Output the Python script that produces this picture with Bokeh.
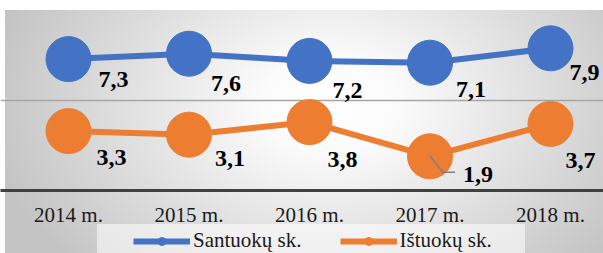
from bokeh.plotting import figure
from bokeh.layouts import column
from bokeh.models import Range1d, FixedTicker, ColumnDataSource, Legend
from bokeh.core.properties import value
from bokeh.embed import file_html
from bokeh.resources import INLINE

# ---- data ----
years = ["2014 m.", "2015 m.", "2016 m.", "2017 m.", "2018 m."]
marriages = [7.3, 7.6, 7.2, 7.1, 7.9]
divorces = [3.3, 3.1, 3.8, 1.9, 3.7]
marriage_labels = ["7,3", "7,6", "7,2", "7,1", "7,9"]
divorce_labels = ["3,3", "3,1", "3,8", "1,9", "3,7"]
series_names = ["Santuokų sk.", "Ištuokų sk."]

# label placement (screen px offsets, style only)
m_dx = [45, 37, 38, 41, 34]
m_dy = [20, 30, 30, 27, 24]
d_dx = [43, 41, 33, 48, 30]
d_dy = [26, 24, 37, 18, 37]

BLUE = "#4472C4"
ORANGE = "#ED7D31"
W = 603
H1 = 229              # chart part
H2 = 24               # legend strip
PX_X = 120.5          # px per category
X0 = 68               # px of first category centre
TOP = 10
FRAME_H = 180

xs = list(range(len(years)))

p = figure(width=W, height=H1, output_backend="svg", toolbar_location=None,
           x_range=Range1d(-X0 / PX_X, (W - X0) / PX_X), y_range=Range1d(0, 10),
           min_border_left=0, min_border_right=0, min_border_top=TOP,
           min_border_bottom=H1 - TOP - FRAME_H)
p.background_fill_color = None
p.border_fill_color = None
p.outline_line_color = None

p.yaxis.visible = False
p.xgrid.visible = False
p.ygrid.ticker = FixedTicker(ticks=[5, 10])
p.ygrid.grid_line_color = "#a6a6a6"
p.ygrid.grid_line_width = 1.5

xa = p.xaxis[0]
xa.ticker = FixedTicker(ticks=xs)
xa.major_label_overrides = {i: y for i, y in zip(xs, years)}
xa.major_tick_line_color = None
xa.minor_tick_line_color = None
xa.major_tick_out = 0
xa.major_tick_in = 0
xa.major_label_standoff = 12
xa.axis_line_color = "#404040"
xa.axis_line_width = 3
xa.major_label_text_font = "Liberation Serif"
xa.major_label_text_font_size = "21px"
xa.major_label_text_color = "#1a1a1a"

p.line(xs, marriages, line_color=BLUE, line_width=6)
p.scatter(xs, marriages, size=45, fill_color=BLUE, line_color=BLUE)
p.line(xs, divorces, line_color=ORANGE, line_width=6)
p.scatter(xs, divorces, size=45, fill_color=ORANGE, line_color=ORANGE)

# leader line for the 1,9 label
i19 = 3
px_y = FRAME_H / 10.0
p.line([xs[i19], xs[i19] + 13 / PX_X, xs[i19] + 25 / PX_X],
       [divorces[i19], divorces[i19] - 16 / px_y, divorces[i19] - 16 / px_y],
       line_color="#7f7f7f", line_width=1.5)

src_m = ColumnDataSource(dict(x=xs, y=marriages, t=marriage_labels, dx=m_dx, dy=m_dy))
src_d = ColumnDataSource(dict(x=xs, y=divorces, t=divorce_labels, dx=d_dx, dy=d_dy))
for src in (src_m, src_d):
    p.text(x="x", y="y", text="t", x_offset="dx", y_offset="dy", source=src,
           text_font=value("Liberation Serif"), text_font_style="bold",
           text_font_size="24px", text_align="center", text_baseline="middle",
           text_color="#000000")

# ---- legend strip (same series, drawn outside its visible range) ----
p2 = figure(width=W, height=H2, output_backend="svg", toolbar_location=None,
            x_axis_location=None, y_axis_location=None,
            x_range=Range1d(-X0 / PX_X, (W - X0) / PX_X), y_range=Range1d(100, 101),
            min_border_left=0, min_border_right=0, min_border_top=0, min_border_bottom=0)
p2.background_fill_color = None
p2.border_fill_color = None
p2.outline_line_color = None
p2.xgrid.visible = False
p2.ygrid.visible = False
l1 = p2.line(xs, marriages, line_color=BLUE, line_width=6)
s1 = p2.scatter(xs, marriages, size=45, fill_color=BLUE, line_color=BLUE)
l2 = p2.line(xs, divorces, line_color=ORANGE, line_width=6)
s2 = p2.scatter(xs, divorces, size=45, fill_color=ORANGE, line_color=ORANGE)

legend = Legend(items=[(series_names[0], [l1, s1]), (series_names[1], [l2, s2])],
                orientation="horizontal", location=(133, 0))
legend.label_text_font = "Liberation Serif"
legend.label_text_font_size = "21px"
legend.label_text_color = "#1a1a1a"
legend.glyph_width = 57
legend.glyph_height = 20
legend.label_standoff = 3
legend.spacing = 38
legend.padding = 0
legend.margin = 0
legend.border_line_color = None
legend.background_fill_color = None
p2.add_layout(legend, "center")

layout = column(p, p2, spacing=0)
layout.styles = {"background":
                 "linear-gradient(#ffffff, #ffffff) 0 0 / 100% 10px no-repeat, "
                 "linear-gradient(#ffffff, #ffffff) 0 0 / 5px 100% no-repeat, "
                 "linear-gradient(rgba(255,255,255,0.55), rgba(255,255,255,0.55)) 97px 224px / 428px 29px no-repeat, "
                 "radial-gradient(ellipse 345px 235px at 330px 105px, #ffffff 0%, #fbfbfb 20%, #c4c4c4 100%)"}

html = file_html(layout, INLINE)
open("out.html", "w").write(html)
